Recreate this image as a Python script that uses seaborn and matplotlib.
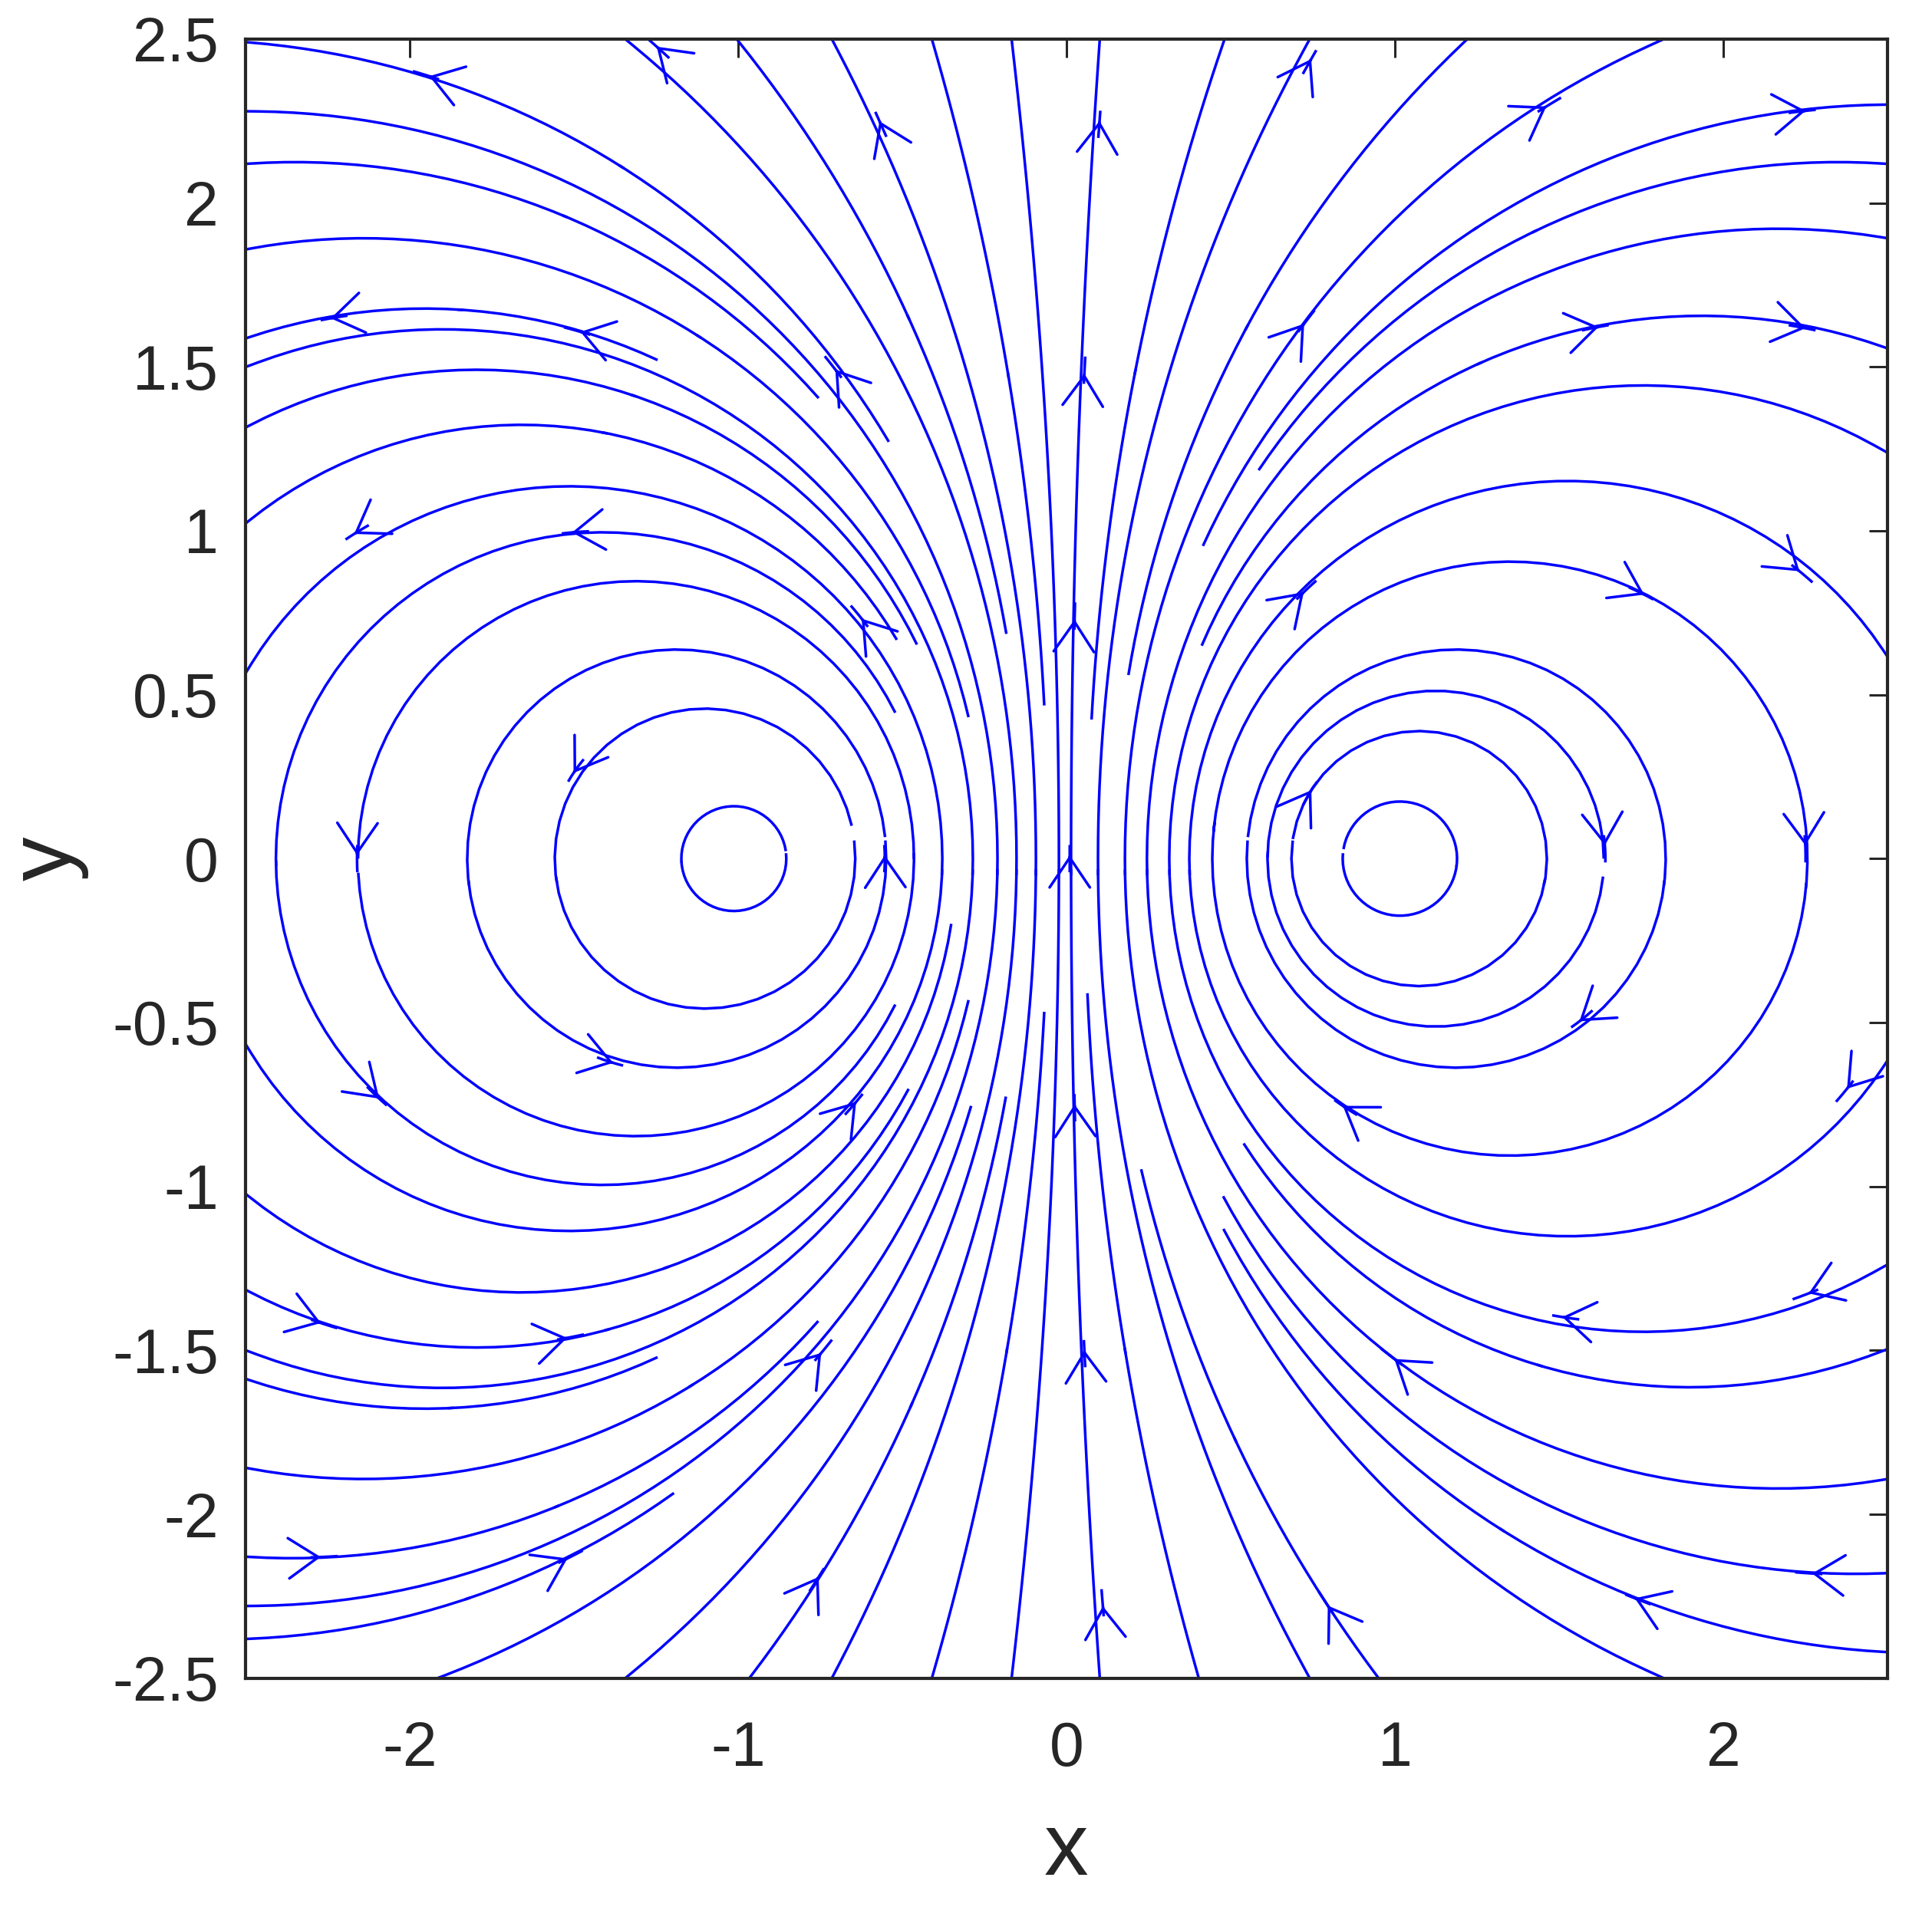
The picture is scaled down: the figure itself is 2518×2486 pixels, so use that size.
import numpy as np
import matplotlib.pyplot as plt
import seaborn as sns

# Point vortex pair (positions and circulation strengths)
vortex_x = [-1.0, 1.0]
vortex_y = [0.0, 0.0]
circulation = [1.0, -1.0]

# Small closed rings right next to each vortex (x-axis crossing)
core_ring_x = [-0.853, 0.841]
# Where the other streamlines cross the x axis
cross_x = [-0.643, -0.549, -0.378, -0.285, -0.210, -0.152, -0.093,
           -0.023, 0.014, 0.096, 0.178, 0.245, 0.313, 0.374, 0.444, 0.549,
           0.685, -2.407, -2.157, 1.636]
# Where streamlines meet the top / bottom edges
top_edge_x = [-1.258, -0.996, -0.685, -0.407, -0.141, 0.129, 0.478, 0.741, 1.21]
bottom_edge_x = [-1.889, -1.258, -0.958, -0.685, -0.407, -0.141, 0.129, 0.40, 0.673]
# Where streamlines meet the left and right edges
left_edge_y = [2.49, 2.12, 1.86, 1.59, 1.32, 1.03,
               -1.03, -1.32, -1.59, -1.86, -2.13, -2.38]
right_edge_y = [2.30, 2.12, 1.86, 1.56, 1.21,
                -1.21, -1.50, -1.85, -2.18, -2.42]

# Arrow head locations
arrow_x = [-1.95, -1.24, -0.565, -2.23, -1.49, -0.71, -2.16, -1.495, -0.63,
           -1.495, -2.16, -0.553, -2.10, -1.39, -0.647, -2.26, -1.51, -0.74,
           -2.26, -1.51, -0.76,
           0.10, 0.055, 0.025, 0.01, 0.025, 0.055, 0.11,
           0.74, 1.47, 2.24, 0.73, 1.61, 2.24, 0.73, 1.75, 2.24, 0.74, 1.64,
           2.25, 1.57, 2.37, 0.85, 1.52, 2.25, 0.99, 0.79, 1.74, 2.26]
arrow_y = [2.39, 2.47, 2.24, 1.65, 1.61, 1.50, 0.996, 0.996, 0.74,
           0.27, 0.0, 0.0, -0.725, -0.62, -0.75, -1.42, -1.46, -1.50,
           -2.13, -2.13, -2.20,
           2.24, 1.49, 0.74, 0.0, -0.76, -1.51, -2.27,
           2.43, 2.30, 2.28, 1.64, 1.62, 1.62, 0.82, 0.81, 0.87, 0.20, 0.03,
           0.03, -0.49, -0.71, -0.76, -1.40, -1.33, -1.52, -2.27, -2.26, -2.18]

x_ticks = [-2, -1, 0, 1, 2]
y_ticks = [-2.5, -2, -1.5, -1, -0.5, 0, 0.5, 1, 1.5, 2, 2.5]
y_tick_labels = ["-2.5", "-2", "-1.5", "-1", "-0.5", "0", "0.5", "1", "1.5", "2", "2.5"]

sns.set_theme(style="white")
plt.rcParams["font.family"] = ["Liberation Sans", "DejaVu Sans"]

# Velocity field on a grid
xs = np.linspace(-2.5, 2.5, 301)
ys = np.linspace(-2.5, 2.5, 301)
X, Y = np.meshgrid(xs, ys)
U = np.zeros_like(X)
V = np.zeros_like(Y)
for vx, vy, g in zip(vortex_x, vortex_y, circulation):
    dx = X - vx
    dy = Y - vy
    r2 = dx**2 + dy**2 + 1e-6
    U += -g * dy / r2
    V += g * dx / r2

edge = 2.49
seeds = [[x, 0.0] for x in cross_x]
seeds += [[x, edge] for x in top_edge_x]
seeds += [[x, -edge] for x in bottom_edge_x]
seeds += [[-edge, y] for y in left_edge_y]
seeds += [[edge, y] for y in right_edge_y]
seeds += [[x, y] for x, y in zip(arrow_x, arrow_y)]
seeds = np.array(seeds)

fig = plt.figure(figsize=(25.18, 24.86), dpi=100)
ax = fig.add_axes([0.127, 0.120, 0.850, 0.8595])

blue = "#0000ff"
line_kw = dict(color=blue, linewidth=2.5, arrowstyle="-", arrowsize=0.01)

# tiny rings round the vortex cores (fine steps so they stay round)
ax.streamplot(X, Y, U, V,
              start_points=np.column_stack([core_ring_x, np.zeros(len(core_ring_x))]),
              density=10, maxlength=6.0, **line_kw)

# all other streamlines
ax.streamplot(X, Y, U, V, start_points=seeds, density=3, maxlength=6.0, **line_kw)

# arrow heads: very short streamlines centred on each arrow location
ax.streamplot(
    X, Y, U, V,
    start_points=np.column_stack([arrow_x, arrow_y]),
    density=8,
    color=blue,
    linewidth=2.5,
    arrowstyle="->,head_width=0.27,head_length=0.4",
    arrowsize=7,
    maxlength=0.02,
    minlength=0.0,
    broken_streamlines=False,
)

ax.set_xlim(-2.5, 2.5)
ax.set_ylim(-2.5, 2.5)
ax.set_xticks(x_ticks)
ax.set_xticklabels([str(t) for t in x_ticks], fontsize=58)
ax.set_yticks(y_ticks)
ax.set_yticklabels(y_tick_labels, fontsize=58)

ax.tick_params(axis="both", direction="in", length=17, width=2.2,
               top=True, right=True, colors="#262626")
ax.tick_params(axis="x", pad=40)
ax.tick_params(axis="y", pad=25)

for side in ["left", "right", "top", "bottom"]:
    ax.spines[side].set_visible(True)
    ax.spines[side].set_color("#262626")
    ax.spines[side].set_linewidth(3.0)

ax.set_xlabel("x", fontsize=83, color="#262626", labelpad=30)
ax.set_ylabel("y", fontsize=83, color="#262626", labelpad=22)

plt.savefig("out.png", dpi=100)
plt.close()
